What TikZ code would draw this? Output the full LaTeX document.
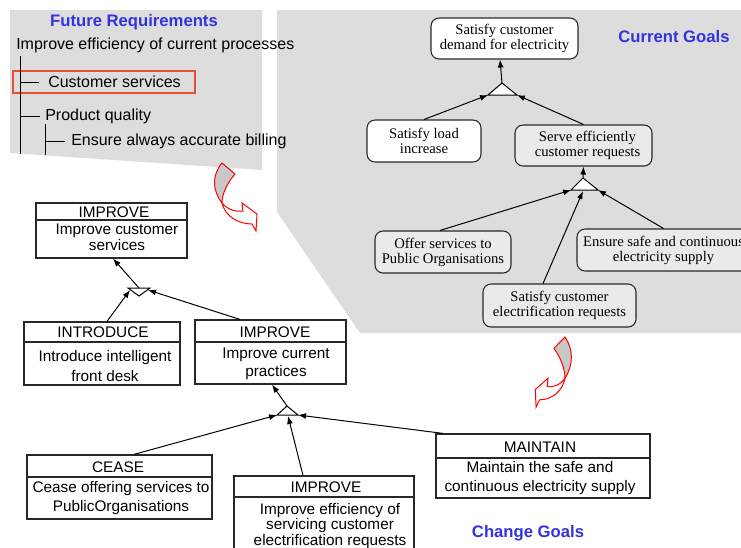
\documentclass[tikz,border=0pt]{standalone}
\usepackage{fontspec}
\setmainfont{Liberation Sans}
\newfontfamily\serifgoal{Liberation Serif}
\usetikzlibrary{arrows.meta,fit}
\definecolor{panelgray}{RGB}{221,221,221}
\definecolor{nodegray}{RGB}{234,234,234}
\definecolor{titleblue}{RGB}{51,51,221}
\definecolor{redbox}{RGB}{232,80,48}
\definecolor{boxline}{RGB}{40,40,40}
\definecolor{arrowfill}{RGB}{200,200,200}
\tikzset{
 panel/.style={fill=panelgray, draw=none},
 titletext/.style={font=\fontsize{12.5pt}{14pt}\selectfont\bfseries, text=titleblue, inner sep=0},
 comic/.style={font=\fontsize{11.5pt}{#1}\selectfont, align=center, inner sep=0},
 comic/.default=13pt,
 reqtext/.style={font=\fontsize{12pt}{14pt}\selectfont, inner sep=0, anchor=west},
 tree/.style={draw=black, line width=0.65pt},
 headbox/.style={draw=boxline, line width=0.9pt, inner sep=0, fill=white},
 headline/.style={draw=boxline, line width=0.9pt},
 goal/.style={draw=boxline, rounded corners=6pt, line width=0.8pt, inner sep=0,
   font=\serifgoal\fontsize{11pt}{11.2pt}\selectfont, align=center},
 link/.style={draw=black, line width=0.75pt, -{Latex[length=6pt,width=4.5pt]}},
 andtri/.style={draw=black, fill=white, line width=0.75pt},
 bentline/.style={draw=red, line width=0.75pt},
}
\newcommand\bentarrowshape{%
 \filldraw[bentline, fill=arrowfill] (0,0) -- (13,11) .. controls (6,19) and (0,30) .. (0,40)
   .. controls (-10,27) and (-10,12) .. (0,0) -- cycle;
 \filldraw[bentline, fill=white] (0,40) .. controls (6,47) and (14,49) .. (21,48) -- (20,40) -- (35,51)
   -- (34,68) -- (30,61) .. controls (16,61) and (3,53) .. (0,40) -- cycle;
}
\begin{document}
\begin{tikzpicture}[x=0.75pt,y=-0.75pt]
\clip (0,0) rectangle (741,547);
\fill[white] (0,0) rectangle (741,547);
% panels
\fill[panel] (10,10) -- (262,10) -- (262,170) -- (10,153) -- cycle;
\fill[panel] (277,10) -- (745,10) -- (745,333) -- (360,333) -- (277,212) -- cycle;

% bent arrows
\begin{scope}[shift={(222,163)}]
 \bentarrowshape
\end{scope}
\begin{scope}[shift={(565,337)}, xscale=-0.85, yscale=1.03]
 \bentarrowshape
\end{scope}

% ---------- Future requirements ----------
\node[titletext] (frtitle) at (134,22) {Future Requirements};
\node[reqtext] (req0) at (16,45) {Improve efficiency of current processes};
\node[draw=redbox, line width=1pt, fit={(13,71) (195,93)}, inner sep=0] (req1box) {};
\node[reqtext] (req1) at (48,82) {Customer services};
\node[reqtext] (req2) at (45,116) {Product quality};
\node[reqtext] (req3) at (71,141) {Ensure always accurate billing};
\coordinate (v1top) at (20,56);
\coordinate (v1bot) at (20,154);
\coordinate (v1a) at (20,82);
\coordinate (v1b) at (20,116);
\coordinate (v2top) at (45,124);
\coordinate (v2bot) at (45,155);
\coordinate (v2a) at (45,141);
\draw[tree] (v1top) -- (v1bot);
\draw[tree] (v1a) -- ([xshift=-6.75pt]req1.west);
\draw[tree] (v1b) -- ([xshift=-3.75pt]req2.west);
\draw[tree] (v2top) -- (v2bot);
\draw[tree] (v2a) -- ([xshift=-4.5pt]req3.west);

% ---------- Current goals ----------
\node[titletext] (cgtitle) at (674,37) {Current Goals};
\node[goal, fill=white, minimum width=110.25pt, minimum height=30.75pt] (top) at (504.5,38.5) {Satisfy customer\\demand for electricity};
\node[goal, fill=white, minimum width=85.5pt, minimum height=31.5pt] (load) at (424,141) {Satisfy load\\increase};
\node[goal, fill=nodegray, minimum width=102.75pt, minimum height=30.75pt] (serve) at (583.5,145.5) {\hspace*{6pt}Serve efficiently\\\hspace*{6pt}customer requests};
\node[goal, fill=nodegray, minimum width=102pt, minimum height=31.5pt] (offer) at (443,252) {Offer services to\\Public Organisations};
\node[goal, fill=nodegray, minimum width=114.75pt, minimum height=32.25pt] (satelec) at (559.5,305.5) {Satisfy customer\\electrification requests};
\node[goal, fill=nodegray, minimum width=129.75pt, minimum height=31.5pt] (ensure) at (663.5,250) {Ensure safe and continuous\\electricity supply};

\coordinate (c1a) at (502,83);
\coordinate (c1L) at (488,95);
\coordinate (c1R) at (517,95);
\draw[andtri] (c1L) -- (c1R) -- (c1a) -- cycle;
\coordinate (c2a) at (583,178);
\coordinate (c2L) at (571,190);
\coordinate (c2R) at (598,190);
\coordinate (c2M) at (583,191);
\draw[andtri] (c2L) -- (c2R) -- (c2a) -- cycle;

\draw[link] (c1a) -- ([xshift=-3.375pt]top.south);
\draw[link] (load.north) -- (c1L);
\draw[link] (serve.north) -- (c1R);
\draw[link] (c2a) -- (serve.south);
\draw[link] ([xshift=-2.25pt]offer.north) -- (c2L);
\draw[link] ([xshift=-12.375pt]satelec.north) -- (c2M);
\draw[link] (ensure.north) -- (c2R);

% ---------- Change goals ----------
\node[titletext] (chtitle) at (528,533) {Change Goals};

% IMPROVE (top)
\node[headbox, fit={(36,203) (187,258)}] (imp1) {};
\draw[headline] (36,220) -- (187,220);
\node[comic] (imp1h) at (114,212) {IMPROVE};
\node[comic=12pt] (imp1b) at (117,237) {Improve customer\\services};

% INTRODUCE
\node[headbox, fit={(24,322) (180,385)}] (intro) {};
\draw[headline] (24,342) -- (180,342);
\node[comic] (introh) at (103,332.5) {INTRODUCE};
\node[comic=15pt] (introb) at (105,366) {Introduce intelligent\\front desk};

% IMPROVE (middle)
\node[headbox, fit={(195,320) (346,384)}] (imp2) {};
\draw[headline] (195,342) -- (346,342);
\node[comic] (imp2h) at (275,332) {IMPROVE};
\node[comic=13.5pt] (imp2b) at (276,364) {Improve current\\practices};

% CEASE
\node[headbox, fit={(27,455) (212,519)}] (cease) {};
\draw[headline] (27,477) -- (212,477);
\node[comic] (ceaseh) at (118,467) {CEASE};
\node[comic=14.25pt] (ceaseb) at (121,498.5) {Cease offering services to\\PublicOrganisations};

% IMPROVE (bottom)
\node[headbox, fit={(234,476) (414,565)}] (imp3) {};
\draw[headline] (234,497) -- (414,497);
\node[comic] (imp3h) at (326,487.5) {IMPROVE};
\node[comic=11.6pt] (imp3b) at (330,526) {Improve efficiency of\\servicing customer\\electrification requests};

% MAINTAIN
\node[headbox, fit={(436,434) (650,498)}] (maint) {};
\draw[headline] (436,458) -- (650,458);
\node[comic] (mainth) at (540,447) {MAINTAIN};
\node[comic=14.25pt] (maintb) at (540,478.5) {Maintain the safe and\\continuous electricity supply};

% triangles of the change goals
\coordinate (t1a) at (139,296);
\coordinate (t1L) at (128,288);
\coordinate (t1R) at (150,288);
\coordinate (t1m) at (139,288);
\coordinate (t1Lp) at (130,290);
\coordinate (t1Rp) at (148,290);
\draw[andtri] (t1L) -- (t1R) -- (t1a) -- cycle;
\coordinate (t2a) at (287,406);
\coordinate (t2L) at (277,415);
\coordinate (t2R) at (298,415);
\coordinate (t2M) at (288,416);
\draw[andtri] (t2L) -- (t2R) -- (t2a) -- cycle;

\draw[link] (t1m) -- ([xshift=1.125pt]imp1.south);
\draw[link] ([xshift=3.75pt]intro.north) -- (t1Lp);
\draw[link] ([xshift=-22.875pt]imp2.north) -- (t1Rp);
\draw[link] (t2a) -- ([xshift=1.125pt]imp2.south);
\draw[link] ([xshift=10.875pt]cease.north) -- (t2L);
\draw[link] ([xshift=-15.75pt]imp3.north) -- (t2M);
\draw[link] ([xshift=-75pt]maint.north) -- (t2R);
\end{tikzpicture}
\end{document}
